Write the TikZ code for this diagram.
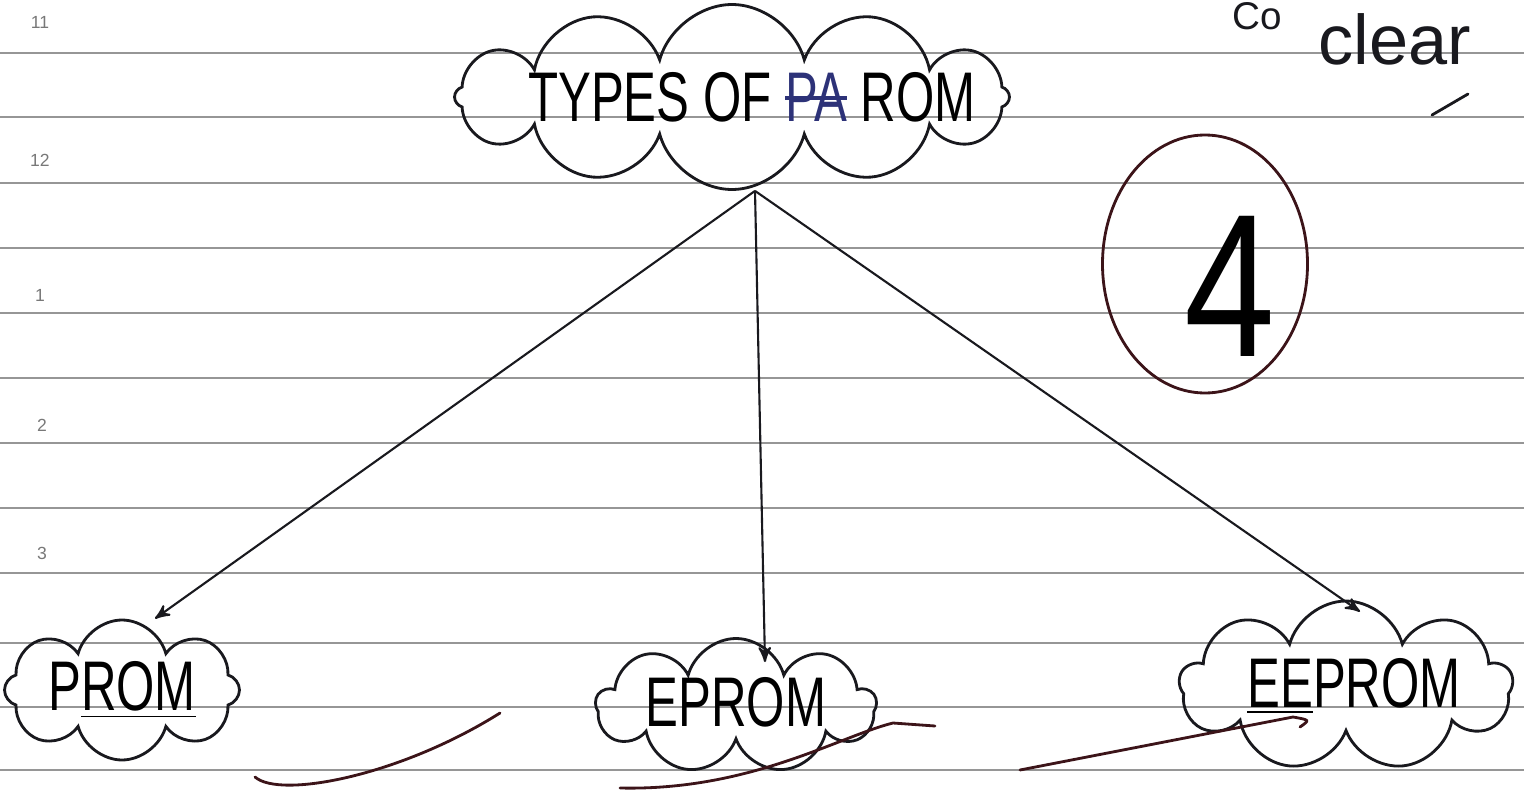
\documentclass[tikz,border=0pt]{standalone}
\usepackage{fontspec}
\setmainfont{Liberation Sans}
\usepackage{xcolor}
\usepackage{tikz}
\usepackage{graphicx}
\usetikzlibrary{shapes,arrows,positioning,calc}
\definecolor{ink}{RGB}{25, 25, 30}
\definecolor{inkblue}{RGB}{45, 50, 120}
\definecolor{redink}{RGB}{60, 20, 25}
\definecolor{ruleline}{RGB}{150, 150, 150}
\definecolor{textmuted}{RGB}{120, 120, 120}
\newcommand{\hand}[1]{\scalebox{0.7}[1]{\fontsize{20}{20}\selectfont #1}}
\newcommand{\struck}[1]{\setbox0\hbox{#1}\rlap{\raisebox{0.3em}{\rule{\wd0}{1.2pt}}}#1}

\tikzset{
    bubble/.style={cloud, draw=ink, thick, cloud ignores aspect, inner sep=0pt},
    link/.style={ink, semithick, ->, >=stealth'}
}

\begin{document}
\begin{tikzpicture}
    \useasboundingbox (0,0) rectangle (152.4mm, 79.6mm);
    % ruled paper
    \foreach \y in {74.3, 67.9, 61.3, 54.8, 48.3, 41.8, 35.3, 28.8, 22.3, 15.3, 8.9, 2.6}
        \draw[ruleline, line width=0.6pt] (0, \y mm) -- (152.4mm, \y mm);
    \node[text=textmuted, scale=0.5] (h11) at (4mm, 77.4mm) {11};
    \node[text=textmuted, scale=0.5] (h12) at (4mm, 63.6mm) {12};
    \node[text=textmuted, scale=0.5] (h1) at (4mm, 50.1mm) {1};
    \node[text=textmuted, scale=0.5] (h2) at (4.2mm, 37.1mm) {2};
    \node[text=textmuted, scale=0.5] (h3) at (4.2mm, 24.3mm) {3};

    % clouds
    \node[bubble, cloud puffs=12, minimum width=55.5mm, minimum height=18.5mm,
        label={[xshift=2mm]center:\hand{TYPES OF \textcolor{inkblue}{\struck{PA}} ROM}}] (types) at (73.2mm, 69.9mm) {};
    \node[bubble, cloud puffs=8, minimum width=23.5mm, minimum height=14mm,
        label={center:\hand{P\underline{ROM}}}] (prom) at (12.2mm, 10.6mm) {};
    \node[bubble, cloud puffs=9, minimum width=28mm, minimum height=13.5mm,
        label={[yshift=0.4mm]center:\hand{EPROM}}] (eprom) at (73.6mm, 9.0mm) {};
    \node[bubble, cloud puffs=9, minimum width=33.3mm, minimum height=17mm,
        label={[xshift=0.8mm]center:\hand{\underline{EE}PROM}}] (eeprom) at (134.6mm, 11.0mm) {};

    % arrows
    \coordinate (fork) at ([xshift=2.3mm]types.south);
    \draw[link] (fork) -- ([xshift=3.3mm]prom.north);
    \draw[link] (fork) -- ([xshift=2.9mm, yshift=-2.5mm]eprom.north);
    \draw[link] (fork) -- ([xshift=1.4mm, yshift=-1.2mm]eeprom.north);

    % marks
    \node[ellipse, draw=redink, thick, minimum width=20.5mm, minimum height=25.8mm, inner sep=0pt,
        text=ink, label={[xshift=2.5mm, yshift=-2.2mm]center:\scalebox{0.8}[1]{\fontsize{58}{58}\selectfont 4}}] (score) at (120.5mm, 53.2mm) {};
    \node[anchor=base, text=ink, font=\fontsize{20}{20}\selectfont] (clear) at (139.5mm, 73.1mm) {clear};
    \node[anchor=base, text=ink, font=\fontsize{11}{11}\selectfont] (co) at (125.7mm, 76.6mm) {Co};
    \draw[ink, thick, line cap=round] (143.2mm, 68.1mm) -- (146.8mm, 70.2mm);
    \draw[redink, thick, line cap=round] (25.5mm, 1.9mm) .. controls (28mm, -0.3mm) and (40mm, 2mm) .. (50mm, 8.3mm);
    \draw[redink, thick, line cap=round] (62mm, 0.8mm) .. controls (75mm, 0.5mm) and (84mm, 6mm) .. (89.3mm, 7.3mm) -- (93.5mm, 7.0mm);
    \draw[redink, thick, line cap=round] (102mm, 2.6mm) -- (129.3mm, 7.9mm) .. controls (131mm, 7.6mm) .. (130mm, 6.9mm);
\end{tikzpicture}
\end{document}
